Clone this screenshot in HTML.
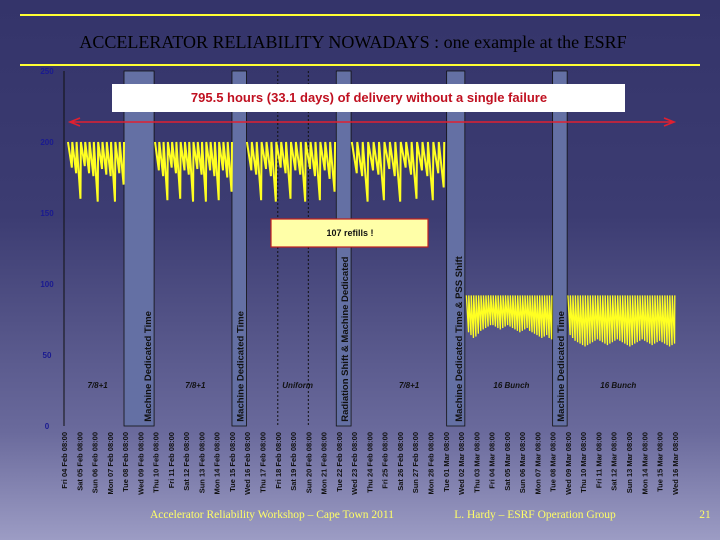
<!DOCTYPE html>
<html><head><meta charset="utf-8"><style>
html,body{margin:0;padding:0;width:720px;height:540px;overflow:hidden}
body{background:linear-gradient(#34346a 0%,#3c3c72 40%,#6a6a9c 80%,#9c9cc4 100%);font-family:"Liberation Sans",sans-serif}
</style></head><body>
<svg id="chart" width="720" height="540" xmlns="http://www.w3.org/2000/svg">
<line x1="20" y1="15" x2="700" y2="15" stroke="#ffff33" stroke-width="2"/>
<text x="353" y="48" text-anchor="middle" font-family="Liberation Serif,serif" font-size="18" fill="#000">ACCELERATOR RELIABILITY NOWADAYS : one example at the ESRF</text>
<line x1="20" y1="65" x2="700" y2="65" stroke="#ffff33" stroke-width="2"/>
<g id="bands"></g>
<g id="axis"></g>
<g id="series"></g>
<g id="ann"></g>
<text x="272" y="518" text-anchor="middle" font-family="Liberation Serif,serif" font-size="11.5" fill="#ffff66">Accelerator Reliability Workshop – Cape Town 2011</text>
<text x="535" y="518" text-anchor="middle" font-family="Liberation Serif,serif" font-size="11.5" fill="#ffff66">L. Hardy – ESRF Operation Group</text>
<text x="705" y="518" text-anchor="middle" font-family="Liberation Serif,serif" font-size="11.5" fill="#ffff66">21</text>
</svg>
<script>
const NS="http://www.w3.org/2000/svg";
const days=["Fri 04 Feb","Sat 05 Feb","Sun 06 Feb","Mon 07 Feb","Tue 08 Feb","Wed 09 Feb","Thu 10 Feb","Fri 11 Feb","Sat 12 Feb","Sun 13 Feb","Mon 14 Feb","Tue 15 Feb","Wed 16 Feb","Thu 17 Feb","Fri 18 Feb","Sat 19 Feb","Sun 20 Feb","Mon 21 Feb","Tue 22 Feb","Wed 23 Feb","Thu 24 Feb","Fri 25 Feb","Sat 26 Feb","Sun 27 Feb","Mon 28 Feb","Tue 01 Mar","Wed 02 Mar","Thu 03 Mar","Fri 04 Mar","Sat 05 Mar","Sun 06 Mar","Mon 07 Mar","Tue 08 Mar","Wed 09 Mar","Thu 10 Mar","Fri 11 Mar","Sat 12 Mar","Sun 13 Mar","Mon 14 Mar","Tue 15 Mar","Wed 16 Mar"];
const yTicks=[0,50,100,150,200,250];
const bandStart=[3.93,11.0,17.83,25.06,32.0];
const bandEnd=[5.9,11.95,18.8,26.25,32.95];
const bandLabels=["Machine Dedicated Time","Machine Dedicated Time","Radiation Shift & Machine Dedicated","Machine Dedicated Time & PSS Shift","Machine Dedicated Time"];
const segStart=[0.26,5.96,11.98,18.85,26.35,33.0];
const segEnd=[3.93,11.0,17.75,24.9,31.95,40.0];
const segMax=[200,200,200,200,92,92];
const seg1Min=[182,178,160,183,178,176,158,181,177,176,158,178,170];
const seg2Min=[180,176,159,182,178,160,180,177,158,181,177,158,180,176,159,180,175,165];
const seg3Min=[180,177,159,181,176,158,182,178,160,180,177,158,181,176,159,180,174,165];
const seg4Min=[178,176,158,180,177,159,181,176,158,182,177,160,180,176,159,178,168];
const seg5Min=[66,64,62,63,65,67,68,69,70,71,71,70,69,68,69,70,71,70,69,68,67,66,67,68,69,67,66,65,64,63,62,63,64,62,61];
const seg6Min=[64,62,60,59,58,57,56,57,58,59,60,61,60,59,58,57,58,59,60,61,60,59,58,57,56,57,58,59,60,61,60,59,58,57,58,59,60,59,58,57,56,57,58];
const segMins=[seg1Min,seg2Min,seg3Min,seg4Min,seg5Min,seg6Min];
const segWidth=[2,2,2,2,1.3,1.3];
const modeLabels=["7/8+1","7/8+1","Uniform","7/8+1","16 Bunch","16 Bunch"];
const modeDay=[2.2,8.6,15.3,22.6,29.3,36.3];
const dashedDays=[14.0,16.0];

const x=d=>64+d*15.27;
const y=v=>426-v*1.42;
function el(tag,attrs,parent,txt){const e=document.createElementNS(NS,tag);for(const k in attrs)e.setAttribute(k,attrs[k]);if(txt!=null)e.textContent=txt;parent.appendChild(e);return e;}
const gB=document.getElementById('bands'),gA=document.getElementById('axis'),gS=document.getElementById('series'),gN=document.getElementById('ann');

dashedDays.forEach(d=>{
 const l=el('line',{x1:x(d),x2:x(d),y1:y(250),y2:y(0),stroke:'#111','stroke-dasharray':'2,2','stroke-width':1},gB);
 
 
});
bandStart.forEach((s,i)=>{
 const r=el('rect',{x:x(s),y:y(250),width:x(bandEnd[i])-x(s),height:y(0)-y(250),fill:'#6470a4',stroke:'#111','stroke-width':0.8},gB);
 
 
 const cx=x(bandEnd[i])-3;
 const t=el('text',{x:cx,y:y(3),transform:`rotate(-90 ${cx} ${y(3)})`,'font-size':9.5,'font-weight':'bold',fill:'#111'},gB,bandLabels[i]);
 
 
});
const ax=el('line',{x1:x(0),x2:x(0),y1:y(250),y2:y(0),stroke:'#111','stroke-width':1},gA);


yTicks.forEach(v=>{
 const t=el('text',{x:47,y:y(v)+3,'text-anchor':'middle','font-size':8,'font-weight':'bold',fill:'#1a1a90'},gA,v);
 
 
});
days.forEach((d,i)=>{
 const px=x(i)+3,py=432;
 const t=el('text',{x:px,y:py,transform:`rotate(-90 ${px} ${py})`,'text-anchor':'end','font-size':7.5,'font-weight':'bold',fill:'#111'},gA,d+" 08:00");
 
 
});
segStart.forEach((s,i)=>{
 const mins=segMins[i],n=mins.length,w=(segEnd[i]-s)/n;
 let p=`M${x(s)},${y(segMax[i])}`;
 for(let k=0;k<n;k++){
  p+=` L${x(s+(k+0.9)*w)},${y(mins[k])} L${x(s+(k+1)*w)},${y(segMax[i])}`;
 }
 const pa=el('path',{d:p,fill:'none',stroke:'#ffff22','stroke-width':segWidth[i]},gS);
 
 
});
modeLabels.forEach((m,i)=>{
 const t=el('text',{x:x(modeDay[i]),y:388,'text-anchor':'middle','font-size':8,'font-style':'italic','font-weight':'bold',fill:'#111'},gN,m);
 
 
});
const b1=el('rect',{x:112,y:84,width:513,height:28,fill:'#fff'},gN);


const t1=el('text',{x:369,y:102,'text-anchor':'middle','font-size':13,'font-weight':'bold',fill:'#c01020'},gN,"795.5 hours (33.1 days) of delivery without a single failure");


const ar=el('path',{d:'M72,122 L672,122 M80,118 L70,122 L80,126 M664,118 L674,122 L664,126',stroke:'#e02030','stroke-width':1.6,fill:'none'},gN);


const b2=el('rect',{x:271,y:219,width:157,height:28,fill:'#ffffa8',stroke:'#c02020','stroke-width':1.2},gN);


const t2=el('text',{x:350,y:236,'text-anchor':'middle','font-size':9,'font-weight':'bold',fill:'#111'},gN,"107 refills !");


</script>
</body></html>
